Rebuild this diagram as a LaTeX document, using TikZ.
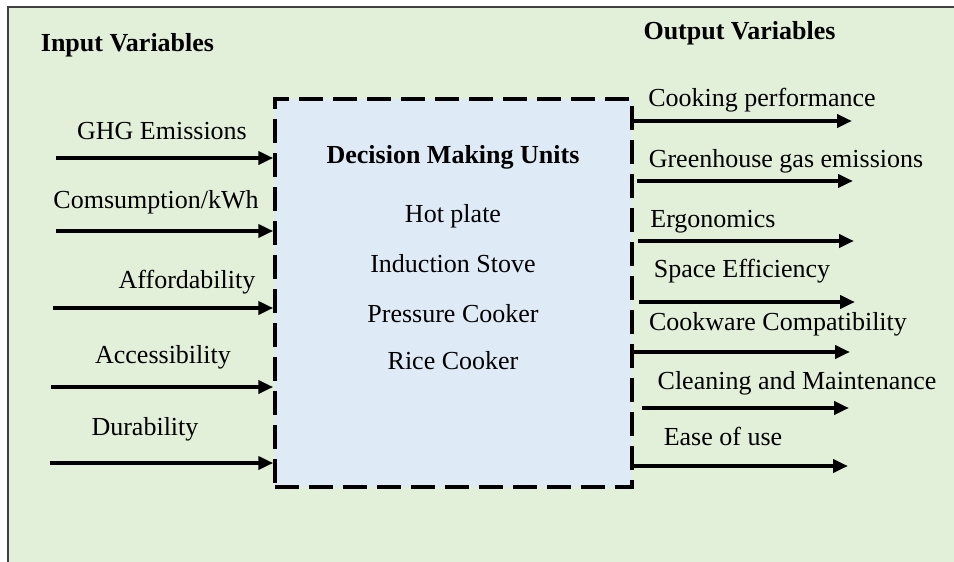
\documentclass[tikz,border=0pt]{standalone}
\usepackage{fontspec}
\setmainfont{Liberation Serif}
\usetikzlibrary{arrows.meta}
\definecolor{bggreen}{HTML}{E2EFD9}
\definecolor{boxblue}{HTML}{DEEBF7}
\definecolor{framegray}{HTML}{404040}
\begin{document}
\begin{tikzpicture}[x=1pt,y=-1pt,
  lab/.style={font=\fontsize{26}{30}\selectfont, anchor=base, inner sep=0pt},
  head/.style={lab, font=\fontsize{26}{30}\selectfont\bfseries},
  arr/.style={line width=4pt, -{Triangle[length=15pt,width=13pt]}},
  dmu/.style={draw=black, fill=boxblue, line width=3.5pt, dash pattern=on 24pt off 10pt,
    minimum width=357pt, minimum height=388pt, inner sep=0pt}
]
\useasboundingbox (0,0) rectangle (954,562);
\fill[bggreen] (8,7) rectangle (954,562);
\draw[framegray, line width=1.5pt] (8,562) -- (8,7) -- (954,7);

% central box
\node[dmu] (box) at (453.5,293) {};
\node[head] (dmuT) at (453,163) {Decision Making Units};
\node[lab] (d1) at (453,222) {Hot plate};
\node[lab] (d2) at (453,272) {Induction Stove};
\node[lab] (d3) at (453,322) {Pressure Cooker};
\node[lab] (d4) at (453,369) {Rice Cooker};

% headings
\node[head] (inT) at (127.5,51) {Input Variables};
\node[head] (outT) at (739.5,39) {Output Variables};

% input labels
\node[lab] (li1) at (162,139) {GHG Emissions};
\node[lab] (li2) at (156,208) {Comsumption/kWh};
\node[lab] (li3) at (187,288) {Affordability};
\node[lab] (li4) at (163,363) {Accessibility};
\node[lab] (li5) at (145,435) {Durability};

% input arrows
\coordinate (i1) at (56,158);
\coordinate (i2) at (56,231);
\coordinate (i3) at (53,308);
\coordinate (i4) at (51,387);
\coordinate (i5) at (50,463);
\foreach \c in {i1,i2,i3,i4,i5}
  \draw[arr] (\c) -- (\c -| box.west);

% output labels
\node[lab] (lo1) at (762,106) {Cooking performance};
\node[lab] (lo2) at (786,167) {Greenhouse gas emissions};
\node[lab] (lo3) at (713,227) {Ergonomics};
\node[lab] (lo4) at (742,277) {Space Efficiency};
\node[lab] (lo5) at (778,330) {Cookware Compatibility};
\node[lab] (lo6) at (797,389) {Cleaning and Maintenance};
\node[lab] (lo7) at (723,445) {Ease of use};

% output arrows
\coordinate (o1) at (852,121);
\coordinate (o2) at (853,181);
\coordinate (o3) at (854,241);
\coordinate (o4) at (855,302);
\coordinate (o5) at (850,352);
\coordinate (o6) at (849,408);
\coordinate (o7) at (848,466);
\draw[arr] (o1 -| box.east) -- (o1);
\draw[arr] ([xshift=3pt]o2 -| box.east) -- (o2);
\draw[arr] ([xshift=4pt]o3 -| box.east) -- (o3);
\draw[arr] ([xshift=5pt]o4 -| box.east) -- (o4);
\draw[arr] (o5 -| box.east) -- (o5);
\draw[arr] ([xshift=8pt]o6 -| box.east) -- (o6);
\draw[arr] (o7 -| box.east) -- (o7);
\end{tikzpicture}
\end{document}
